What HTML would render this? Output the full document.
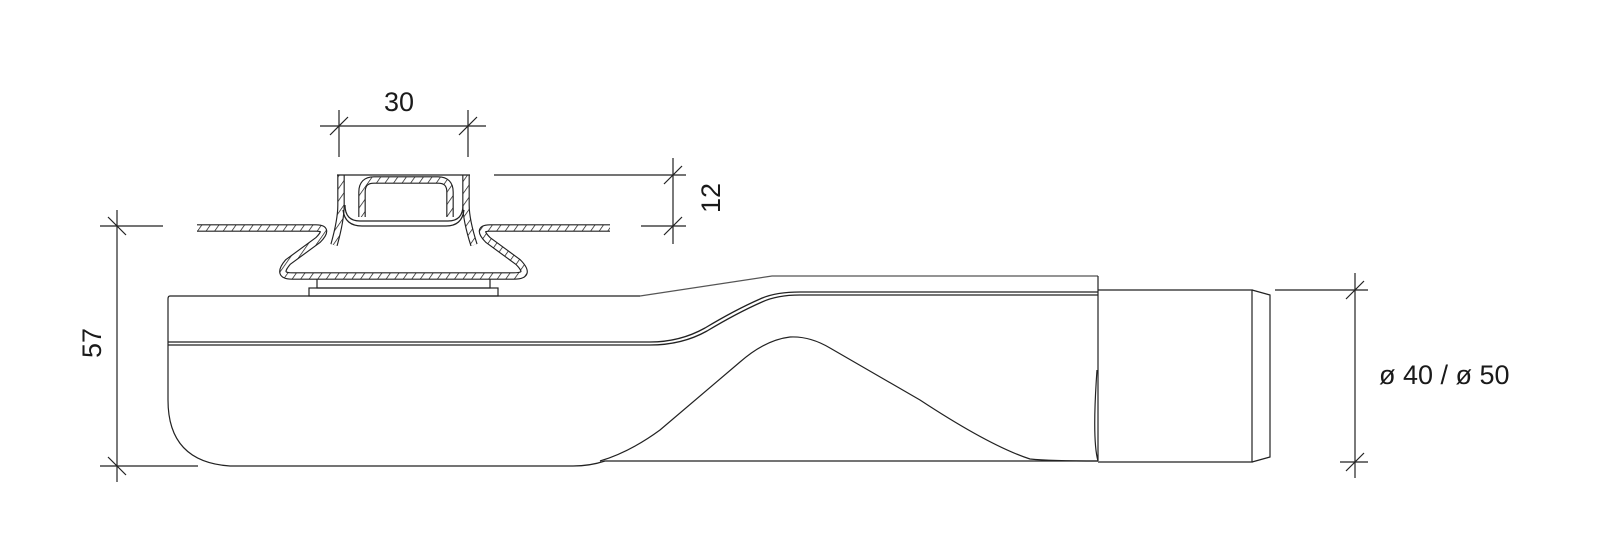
<!DOCTYPE html>
<html><head><meta charset="utf-8"><style>
html,body{margin:0;padding:0;background:#fff;}
svg{display:block;}
text{font-family:"Liberation Sans",sans-serif;fill:#1a1a1a;}
</style></head><body>
<svg width="1620" height="558" viewBox="0 0 1620 558" xmlns="http://www.w3.org/2000/svg">
<defs>
<pattern id="h" width="7" height="7" patternUnits="userSpaceOnUse" patternTransform="rotate(35)">
<rect width="7" height="7" fill="#fff"/><line x1="0" y1="0" x2="0" y2="7" stroke="#111" stroke-width="1.4"/>
</pattern>
</defs>
<g fill="none" stroke="#222" stroke-width="1.2">
<line x1="117" y1="210" x2="117" y2="482"/>
<line x1="100" y1="226" x2="163" y2="226"/>
<line x1="100" y1="466" x2="198" y2="466"/>
<line x1="108" y1="217" x2="126" y2="235"/>
<line x1="108" y1="457" x2="126" y2="475"/>
<line x1="320" y1="126" x2="486" y2="126"/>
<line x1="339" y1="110" x2="339" y2="157"/>
<line x1="468" y1="110" x2="468" y2="157"/>
<line x1="330" y1="135" x2="348" y2="117"/>
<line x1="459" y1="135" x2="477" y2="117"/>
<line x1="494" y1="175" x2="686" y2="175"/>
<line x1="641" y1="226" x2="686" y2="226"/>
<line x1="673" y1="158" x2="673" y2="244"/>
<line x1="664" y1="184" x2="682" y2="166"/>
<line x1="664" y1="235" x2="682" y2="217"/>
<line x1="1355" y1="273" x2="1355" y2="478"/>
<line x1="1275" y1="290" x2="1368" y2="290"/>
<line x1="1340" y1="462" x2="1368" y2="462"/>
<line x1="1346" y1="299" x2="1364" y2="281"/>
<line x1="1346" y1="471" x2="1364" y2="453"/>

<path d="M640 296 L170 296 Q168 296 168 299 L168 400 Q168 462 230 466 L573 466 Q590 466 605 461 L1098 461"/>
<path d="M640 296 Q700 287 772 276 L1098 276" stroke="#555"/>
<path d="M168 342 L650 342 Q680 342 705 328 Q735 310 760 299 Q775 292 800 292 L1098 292" stroke-width="1.3"/>
<path d="M168 345 L650 345 Q682 345 707 331 Q737 313 762 302 Q777 295 800 295 L1098 295" stroke-width="1.3"/>
<path d="M600 461 Q630 452 660 430 L740 362 Q765 340 790 337 Q810 336 830 348 L920 400 Q990 446 1030 459 Q1050 461 1098 461"/>
<path d="M1098 276 L1098 461 Q1092 440 1097 370"/>
<path d="M1098 290 L1252 290 L1252 462 L1098 462"/>
<path d="M1252 290 L1270 295 L1270 457 L1252 462"/>
<rect x="317" y="278" width="173" height="10"/>
<rect x="309" y="288" width="189" height="8"/>
</g>

<g fill="none" stroke-linejoin="round" stroke-linecap="butt">
<g stroke="#222" stroke-width="7.5">
<path d="M197 228 L316 228 Q330 228 318 240 L288 262 Q276 276 292 276 L514 276 Q532 276 518 262 L488 240 Q476 228 490 228 L610 228"/>
<path d="M341 175 L341 205 Q341 220 334 245"/>
<path d="M466 175 L466 205 Q466 220 474 245"/>
<path d="M362 217 L362 192 Q362 180 374 180 L438 180 Q450 180 450 192 L450 217"/>
</g>
<g stroke="url(#h)" stroke-width="5.2">
<path d="M197 228 L316 228 Q330 228 318 240 L288 262 Q276 276 292 276 L514 276 Q532 276 518 262 L488 240 Q476 228 490 228 L610 228"/>
<path d="M341 175 L341 205 Q341 220 334 245"/>
<path d="M466 175 L466 205 Q466 220 474 245"/>
<path d="M362 217 L362 192 Q362 180 374 180 L438 180 Q450 180 450 192 L450 217"/>
</g>
<g stroke="#222" stroke-width="1.2">
<line x1="337" y1="175" x2="470" y2="175"/>
<path d="M345 205 Q345 221 360 221 L448 221 Q463 221 463 205"/>
<path d="M343 210 Q345 226 362 226 L446 226 Q462 226 464 210"/>
</g>
</g>

<text x="399" y="111" font-size="27" text-anchor="middle">30</text>
<text transform="translate(101 343) rotate(-90)" font-size="27" text-anchor="middle">57</text>
<text transform="translate(720 198) rotate(-90)" font-size="27" text-anchor="middle">12</text>
<text x="1379" y="384" font-size="27">ø 40 / ø 50</text>
</svg>
</body></html>
